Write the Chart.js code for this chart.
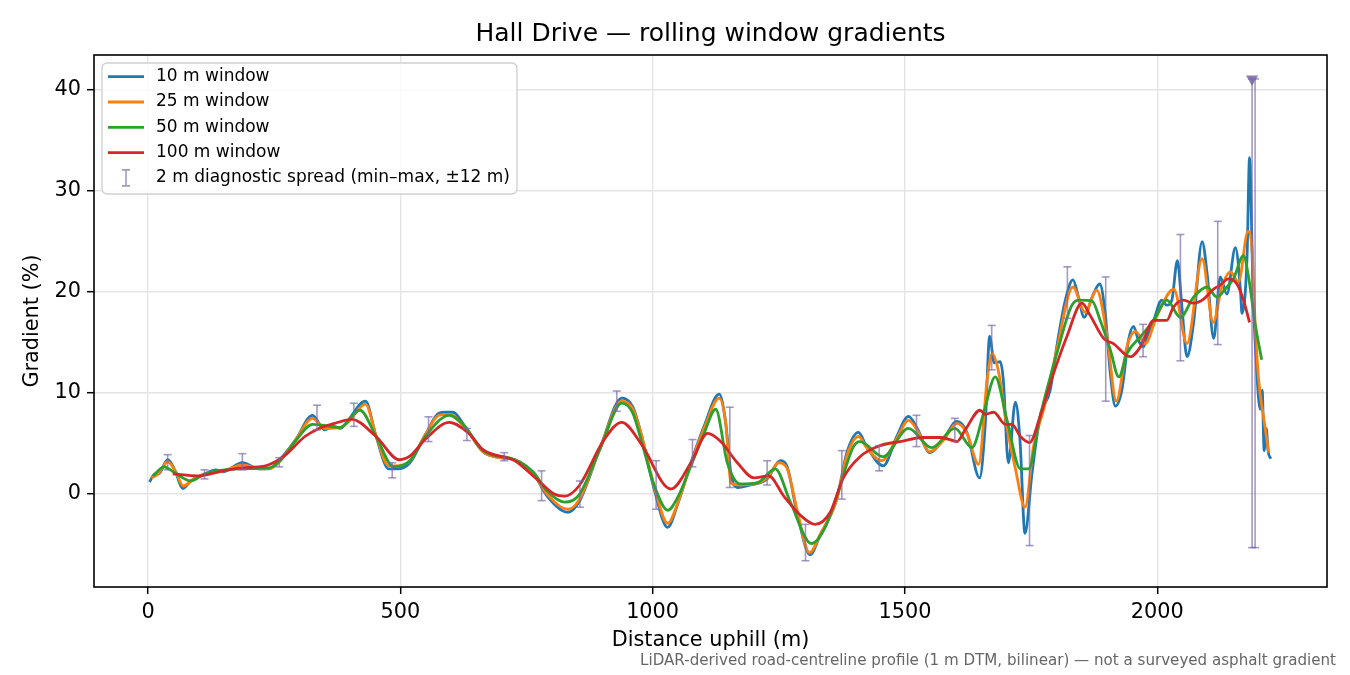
<!DOCTYPE html>
<html>
<head>
<meta charset="utf-8">
<title>Hall Drive — rolling window gradients</title>
<script src="https://cdn.jsdelivr.net/npm/chart.js@4.4.1/dist/chart.umd.min.js"></script>
<style>
  html, body { margin: 0; padding: 0; background: #fff; }
  canvas { display: block; }
</style>
</head>
<body>
<canvas id="gradChart" width="1350" height="675"></canvas>
<script>
// axis ticks
const xTicks = [0, 500, 1000, 1500, 2000];
const yTicks = [0, 10, 20, 30, 40];

// 10 m window
const dist10 = [3, 14, 21, 39, 53, 69, 85, 113, 134, 148, 187, 219, 240, 261, 293, 326, 350, 367, 381, 395, 431, 452, 477, 494, 519, 551, 576, 590, 604, 628, 664, 699, 727, 763, 791, 832, 854, 897, 939, 961, 977, 1003, 1030, 1049, 1076, 1102, 1132, 1145, 1155, 1168, 1194, 1227, 1253, 1266, 1286, 1312, 1332, 1365, 1385, 1408, 1424, 1457, 1484, 1507, 1526, 1549, 1576, 1603, 1623, 1648, 1659, 1668, 1677, 1689, 1695, 1705, 1719, 1728, 1738, 1752, 1768, 1788, 1801, 1818, 1833, 1844, 1855, 1871, 1886, 1897, 1907, 1917, 1930, 1943, 1953, 1963, 1973, 1980, 1993, 2009, 2019, 2029, 2040, 2049, 2059, 2072, 2089, 2099, 2112, 2125, 2138, 2155, 2165, 2168, 2178, 2183, 2190, 2196, 2204, 2208, 2212, 2216, 2220, 2225];
const grad10 = [1.2, 2.0, 2.0, 3.4, 2.4, 0.55, 1.3, 2.0, 2.4, 2.2, 3.1, 2.5, 2.5, 3.4, 5.4, 7.8, 6.35, 6.7, 6.5, 7.2, 9.2, 5.7, 2.5, 2.5, 3.1, 6.0, 8.0, 8.1, 8.1, 6.7, 4.2, 3.6, 3.4, 2.1, -0.2, -1.8, -0.8, 4.7, 9.5, 8.6, 6.0, 0.5, -3.3, -1.1, 3.1, 6.7, 9.9, 7.0, 2.1, 0.65, 0.9, 1.5, 3.3, 2.8, -1.8, -6.0, -4.1, -0.5, 4.1, 6.1, 4.7, 2.8, 5.7, 7.7, 6.35, 4.1, 5.4, 7.2, 6.1, 1.6, 6.7, 15.6, 13.0, 13.1, 11.3, 3.1, 9.1, 5.4, -3.9, 2.1, 7.7, 10.3, 14.6, 19.2, 21.2, 19.5, 17.5, 19.5, 20.8, 17.9, 12.0, 8.7, 10.3, 15.2, 16.6, 15.2, 14.6, 15.6, 17.2, 19.2, 18.7, 19.2, 23.1, 18.5, 13.6, 16.9, 25.0, 21.8, 15.4, 21.5, 19.8, 24.4, 20.2, 17.9, 23.4, 33.3, 20.0, 13.3, 8.4, 10.3, 4.3, 6.5, 4.2, 3.5];

// 25 m window
const dist25 = [7, 20, 39, 55, 70, 88, 113, 150, 187, 225, 245, 262, 293, 326, 350, 381, 398, 431, 452, 477, 494, 519, 551, 576, 597, 628, 664, 699, 727, 763, 791, 832, 854, 897, 939, 961, 977, 1003, 1030, 1049, 1076, 1102, 1132, 1145, 1155, 1174, 1200, 1227, 1250, 1266, 1286, 1311, 1332, 1365, 1385, 1408, 1424, 1454, 1484, 1507, 1526, 1549, 1576, 1603, 1623, 1646, 1663, 1673, 1686, 1702, 1719, 1738, 1755, 1775, 1801, 1833, 1857, 1880, 1900, 1919, 1940, 1957, 1976, 2000, 2033, 2059, 2089, 2111, 2128, 2145, 2161, 2180, 2188, 2194, 2201, 2212, 2221];
const grad25 = [1.6, 2.0, 3.2, 2.2, 0.8, 1.4, 2.0, 2.3, 2.9, 2.5, 2.6, 3.3, 5.4, 7.5, 6.5, 6.6, 7.2, 8.9, 5.8, 2.8, 2.8, 3.3, 6.0, 7.8, 7.9, 6.6, 4.2, 3.6, 3.4, 2.1, 0.0, -1.5, -0.6, 4.7, 9.2, 8.4, 6.0, 0.8, -2.9, -1.0, 3.0, 6.5, 9.5, 7.0, 1.1, 0.9, 1.0, 1.6, 3.1, 2.6, -1.5, -5.8, -4.0, -0.5, 3.8, 5.7, 4.6, 3.3, 5.5, 7.3, 6.2, 4.2, 5.3, 7.0, 6.0, 2.95, 11.3, 13.9, 12.0, 6.7, 2.5, -1.3, 4.75, 8.4, 14.3, 20.5, 18.0, 20.2, 15.9, 9.2, 14.6, 16.1, 14.9, 17.7, 20.3, 14.9, 23.3, 17.0, 20.5, 22.0, 21.0, 26.0, 24.1, 17.0, 11.3, 7.2, 4.1];

// 50 m window
const dist50 = [10, 32, 50, 85, 113, 180, 240, 262, 293, 326, 381, 420, 452, 487, 519, 551, 597, 628, 664, 727, 763, 791, 826, 854, 897, 939, 961, 977, 1003, 1030, 1049, 1076, 1102, 1125, 1148, 1174, 1207, 1243, 1273, 1315, 1340, 1365, 1398, 1411, 1457, 1507, 1553, 1599, 1633, 1656, 1679, 1702, 1729, 1745, 1768, 1801, 1831, 1847, 1871, 1887, 1907, 1924, 1940, 1967, 1993, 2019, 2046, 2072, 2099, 2118, 2138, 2151, 2171, 2181, 2194, 2207];
const grad50 = [1.8, 2.7, 2.2, 1.3, 2.0, 2.5, 2.6, 3.3, 5.3, 6.9, 6.6, 8.3, 5.7, 2.7, 3.3, 5.8, 7.8, 6.7, 4.3, 3.4, 2.2, 0.3, -0.8, -0.1, 4.6, 9.0, 8.0, 5.4, 0.9, -1.6, -0.4, 2.8, 6.0, 8.4, 3.1, 1.0, 1.1, 2.5, -0.8, -4.9, -3.5, -0.2, 4.7, 5.2, 3.7, 6.5, 4.6, 6.5, 4.6, 8.0, 11.6, 7.4, 2.5, 2.5, 7.7, 13.9, 18.7, 19.2, 19.1, 17.2, 14.3, 11.6, 13.9, 15.6, 17.2, 19.2, 17.5, 19.5, 20.5, 19.5, 20.5, 21.3, 23.6, 21.5, 16.9, 13.3];

// 100 m window
const dist100 = [49, 99, 140, 184, 233, 268, 311, 339, 370, 403, 452, 498, 520, 551, 597, 636, 664, 727, 770, 805, 826, 854, 904, 939, 977, 1036, 1076, 1109, 1135, 1168, 1201, 1230, 1260, 1293, 1322, 1352, 1378, 1411, 1451, 1490, 1536, 1570, 1589, 1603, 1620, 1649, 1659, 1676, 1699, 1712, 1729, 1747, 1768, 1795, 1821, 1851, 1867, 1894, 1913, 1947, 1967, 1993, 2019, 2032, 2052, 2072, 2092, 2112, 2125, 2141, 2158, 2171, 2183];
const grad100 = [2.0, 1.8, 2.2, 2.6, 2.8, 3.7, 5.7, 6.5, 7.0, 7.4, 5.7, 3.4, 3.8, 5.5, 7.1, 6.0, 4.4, 3.3, 1.5, 0.0, -0.2, 0.8, 5.4, 7.1, 5.0, 0.5, 3.1, 6.0, 5.2, 3.1, 1.6, 1.8, -0.2, -2.1, -3.0, -1.8, 1.6, 3.7, 4.8, 5.2, 5.6, 5.6, 5.4, 5.2, 6.4, 8.3, 7.9, 8.1, 6.9, 6.9, 5.7, 5.1, 7.7, 12.0, 15.6, 18.9, 17.7, 15.4, 14.9, 13.6, 14.6, 17.2, 17.2, 18.5, 19.2, 18.9, 19.3, 20.3, 20.7, 21.3, 20.8, 19.2, 17.0];

// 2 m diagnostic spread (min / max within ±12 m)
const spreadDist = [39, 112, 187, 260, 335, 408, 484, 556, 632, 706, 780, 856, 929, 1007, 1079, 1153, 1227, 1303, 1375, 1449, 1523, 1599, 1672, 1747, 1822, 1898, 1972, 2046, 2120, 2188, 2194];
const spreadLo = [2.4, 1.5, 2.4, 2.7, 6.35, 6.7, 1.6, 5.2, 5.3, 3.3, -0.65, -1.3, 8.2, -1.5, 2.7, 0.65, 0.9, -6.6, -0.5, 2.3, 4.7, 5.2, 12.3, -5.1, 17.4, 9.2, 13.6, 13.2, 14.8, -5.3, -5.3];
const spreadHi = [3.9, 2.4, 4.0, 3.6, 8.8, 9.0, 3.1, 7.65, 6.5, 4.1, 2.3, 1.3, 10.2, 3.3, 5.4, 8.6, 3.3, -3.0, 4.3, 4.8, 7.8, 7.5, 16.7, 5.8, 22.5, 21.5, 16.8, 25.7, 27.0, 41.1, 41.1];

// spread max off the scale
const clipDist = [2188];
const clipGrad = [41.1];

const seriesLabels = ['10 m window', '25 m window', '50 m window', '100 m window'];
const seriesColors = ['#1f77b4', '#ff7f0e', '#2ca02c', '#d62728'];
const spreadLabel = '2 m diagnostic spread (min\u2013max, \u00b112 m)';
const spreadColor = 'rgba(122, 104, 168, 0.68)';

function pairs(xs, ys) {
    return xs.map((x, i) => ({ x: x, y: ys[i] }));
}

// each spread is lo -> hi, then a null to break the line
function spreadPoints() {
    const pts = [];
    spreadDist.forEach((x, i) => {
        pts.push({ x: x, y: spreadLo[i] });
        pts.push({ x: x, y: spreadHi[i] });
        pts.push({ x: x, y: null });
    });
    return pts;
}

const seriesData = [pairs(dist10, grad10), pairs(dist25, grad25), pairs(dist50, grad50), pairs(dist100, grad100)];

const lineSets = seriesData.map((d, i) => ({
    label: seriesLabels[i],
    data: d,
    borderColor: seriesColors[i],
    backgroundColor: seriesColors[i],
    borderWidth: 2.8,
    pointRadius: 0,
    fill: false,
    cubicInterpolationMode: 'monotone',
    order: 4 - i
}));

// title, footnote, frame and legend
const decorations = {
    id: 'decorations',
    afterDraw(chart) {
        const ctx = chart.ctx;
        const a = chart.chartArea;
        ctx.save();

        // frame
        ctx.strokeStyle = '#000';
        ctx.lineWidth = 1.6;
        ctx.strokeRect(a.left, a.top, a.right - a.left, a.bottom - a.top);

        // title
        ctx.fillStyle = '#000';
        ctx.font = '25px "DejaVu Sans"';
        ctx.textAlign = 'center';
        ctx.textBaseline = 'middle';
        ctx.fillText('Hall Drive \u2014 rolling window gradients', (a.left + a.right) / 2, 34);

        // footnote
        ctx.fillStyle = '#666';
        ctx.font = '15.1px "DejaVu Sans"';
        ctx.textAlign = 'right';
        ctx.textBaseline = 'alphabetic';
        ctx.fillText('LiDAR-derived road-centreline profile (1 m DTM, bilinear) \u2014 not a surveyed asphalt gradient', 1336, 665);

        // legend box
        const lx = a.left + 8, ly = a.top + 8, lw = 415, lh = 131;
        ctx.beginPath();
        ctx.roundRect(lx, ly, lw, lh, 5);
        ctx.fillStyle = 'rgba(255,255,255,0.85)';
        ctx.fill();
        ctx.strokeStyle = '#cfcfcf';
        ctx.lineWidth = 1.3;
        ctx.stroke();

        ctx.font = '17px "DejaVu Sans"';
        ctx.textAlign = 'left';
        ctx.textBaseline = 'middle';
        const rowY = i => ly + 13.7 + i * 25.3;
        seriesLabels.forEach((lab, i) => {
            const y = rowY(i);
            ctx.beginPath();
            ctx.moveTo(lx + 6, y);
            ctx.lineTo(lx + 42, y);
            ctx.strokeStyle = seriesColors[i];
            ctx.lineWidth = 2.8;
            ctx.stroke();
            ctx.fillStyle = '#000';
            ctx.fillText(lab, lx + 54, y);
        });
        const ey = rowY(4);
        const ex = lx + 24;
        ctx.beginPath();
        ctx.moveTo(ex, ey - 8); ctx.lineTo(ex, ey + 8);
        ctx.moveTo(ex - 4, ey - 8); ctx.lineTo(ex + 4, ey - 8);
        ctx.moveTo(ex - 4, ey + 8); ctx.lineTo(ex + 4, ey + 8);
        ctx.strokeStyle = spreadColor;
        ctx.lineWidth = 1.6;
        ctx.stroke();
        ctx.fillStyle = '#000';
        ctx.fillText(spreadLabel, lx + 54, ey);

        ctx.restore();
    }
};

const ctx = document.getElementById('gradChart').getContext('2d');
Chart.defaults.font.family = '"DejaVu Sans"';
Chart.defaults.color = '#000';

new Chart(ctx, {
    type: 'line',
    data: {
        datasets: lineSets.concat([
            {
                label: spreadLabel,
                data: spreadPoints(),
                borderColor: spreadColor,
                backgroundColor: spreadColor,
                borderWidth: 1.6,
                pointStyle: 'line',
                pointRadius: 4,
                pointBorderWidth: 1.6,
                pointBorderColor: spreadColor,
                spanGaps: false,
                tension: 0,
                order: 0
            },
            {
                label: 'clipped',
                data: pairs(clipDist, clipGrad),
                showLine: false,
                pointStyle: 'triangle',
                rotation: 180,
                pointRadius: 7,
                pointBorderWidth: 0,
                pointBackgroundColor: '#8a7cb0',
                pointBorderColor: '#8a7cb0',
                order: 0
            }
        ])
    },
    options: {
        responsive: false,
        animation: false,
        devicePixelRatio: 1,
        layout: { padding: { left: 0, top: 55, right: 23, bottom: 0 } },
        plugins: {
            legend: { display: false },
            tooltip: { enabled: false },
            title: { display: false }
        },
        scales: {
            x: {
                type: 'linear',
                min: -107,
                max: 2336.5,
                afterBuildTicks: s => { s.ticks = xTicks.map(v => ({ value: v })); },
                afterFit: s => { s.height = 88; },
                ticks: { font: { size: 20.8 }, color: '#000', padding: 6, maxRotation: 0, callback: v => String(v) },
                grid: { color: '#e4e4e4', lineWidth: 1.4, tickColor: '#000', tickWidth: 1.5, tickLength: 7 },
                border: { display: false },
                title: { display: true, text: 'Distance uphill (m)', font: { size: 20.8 }, color: '#000', padding: { top: 0, bottom: 22 } }
            },
            y: {
                type: 'linear',
                min: -9.2,
                max: 43.47,
                afterBuildTicks: s => { s.ticks = yTicks.map(v => ({ value: v })); },
                afterFit: s => { s.width = 94; },
                ticks: { font: { size: 20.8 }, color: '#000', padding: 6, callback: v => String(v) },
                grid: { color: '#e4e4e4', lineWidth: 1.4, tickColor: '#000', tickWidth: 1.5, tickLength: 7 },
                border: { display: false },
                title: { display: true, text: 'Gradient (%)', font: { size: 20.8 }, color: '#000', padding: { top: 20, bottom: 0 } }
            }
        }
    },
    plugins: [decorations]
});
</script>
</body>
</html>
